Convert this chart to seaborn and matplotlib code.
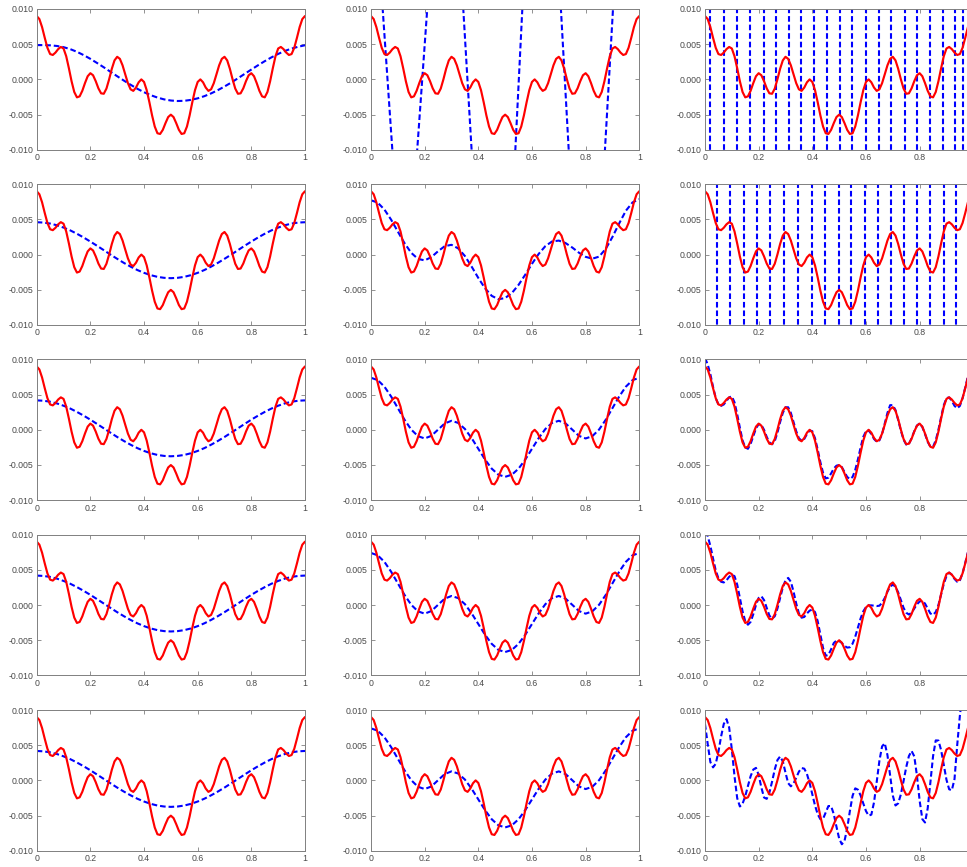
import numpy as np
import pandas as pd
import matplotlib
matplotlib.use("Agg")
import matplotlib.pyplot as plt
from matplotlib.ticker import FormatStrFormatter
import seaborn as sns

MILLI = 1e-3  # all curve values below are listed in thousandths

# sample positions
x_fine = np.round(np.arange(101) * 0.01, 2)      # 0.00 .. 1.00
x_coarse = np.round(np.arange(41) * 0.025, 3)    # 0.000 .. 1.000
x_right = x_fine[:99]                            # 0.00 .. 0.98

# target signal (solid red)
red_vals = [
    9.00, 8.57, 7.43, 5.91, 4.49, 3.60, 3.47, 3.81, 4.30, 4.61,
    4.39, 3.29, 1.58, -0.27, -1.79, -2.55, -2.41, -1.62, -0.52, 0.45,
    0.88, 0.59, -0.25, -1.27, -1.98, -2.04, -1.30, 0.02, 1.51, 2.70,
    3.21, 2.92, 2.00, 0.72, -0.54, -1.41, -1.63, -1.16, -0.41, 0.00,
    -0.36, -1.53, -3.24, -5.11, -6.70, -7.65, -7.75, -7.17, -6.21, -5.35,
    -5.01,
    -5.35, -6.21, -7.17, -7.75, -7.65, -6.70, -5.11, -3.24, -1.53, -0.36,
    0.00, -0.41, -1.16, -1.63, -1.41, -0.54, 0.72, 2.00, 2.92, 3.21,
    2.70, 1.51, 0.02, -1.30, -2.04, -1.98, -1.27, -0.25, 0.59, 0.88,
    0.45, -0.52, -1.62, -2.41, -2.55, -1.79, -0.27, 1.58, 3.29, 4.39,
    4.61, 4.30, 3.81, 3.47, 3.60, 4.49, 5.91, 7.43, 8.57, 9.00,
]

# approximations (dashed blue), left column
blue_left_1 = [
    4.87, 4.87, 4.84, 4.75, 4.58, 4.30, 3.92, 3.45, 2.92, 2.33,
    1.72, 1.08, 0.45, -0.17, -0.76, -1.33, -1.82, -2.24, -2.58, -2.84,
    -3.00, -3.07, -3.04, -2.91, -2.69, -2.38, -1.99, -1.53, -1.01, -0.45,
    0.16, 0.78, 1.40, 2.01, 2.59, 3.13, 3.62, 4.04, 4.38, 4.64, 4.85,
]
blue_left_2 = [
    4.60, 4.55, 4.41, 4.17, 3.84, 3.44, 2.96, 2.43, 1.85, 1.25,
    0.63, 0.00, -0.60, -1.18, -1.71, -2.19, -2.59, -2.92, -3.16, -3.30,
    -3.35, -3.30, -3.16, -2.92, -2.59, -2.19, -1.71, -1.18, -0.60, 0.00,
    0.63, 1.25, 1.85, 2.43, 2.96, 3.44, 3.84, 4.17, 4.41, 4.55, 4.60,
]
blue_left_3 = [
    4.18, 4.13, 3.99, 3.75, 3.42, 3.02, 2.54, 2.01, 1.44, 0.83,
    0.21, -0.41, -1.02, -1.59, -2.12, -2.60, -3.00, -3.33, -3.57, -3.71,
    -3.76, -3.71, -3.57, -3.33, -3.00, -2.60, -2.12, -1.59, -1.02, -0.41,
    0.21, 0.83, 1.44, 2.01, 2.54, 3.02, 3.42, 3.75, 3.99, 4.13, 4.18,
]

# middle column
blue_mid_1_x = [0.0, 0.125, 0.283, 0.4636, 0.632, 0.8033, 1.0]
blue_mid_1_y = [34.2, -35.3, 49.3, -67.2, 62.3, -55.8, 75.4]
blue_mid_2 = [
    7.72, 7.38, 6.40, 4.96, 3.27, 1.62, 0.25, -0.61, -0.82, -0.36,
    0.48, 1.20, 1.39, 0.88, -0.20, -1.70, -3.32, -4.79, -5.86, -6.34,
    -6.17, -5.46, -4.30, -2.85, -1.31, 0.10, 1.21, 1.87, 1.99, 1.64,
    1.01, 0.27, -0.32, -0.58, -0.29, 0.82, 2.51, 4.43, 6.23, 7.42, 7.86,
]
blue_mid_3 = [
    7.39, 7.06, 6.13, 4.73, 3.08, 1.43, 0.03, -0.90, -1.23, -0.86,
    0.03, 0.91, 1.28, 0.98, 0.12, -1.18, -2.70, -4.22, -5.52, -6.38,
    -6.68, -6.38, -5.52, -4.22, -2.70, -1.18, 0.12, 0.98, 1.28, 0.91,
    0.03, -0.86, -1.23, -0.90, 0.03, 1.43, 3.08, 4.73, 6.13, 7.06, 7.39,
]

# right column: zero crossings of the aliased (off-scale) approximations
alias_cross_1 = [0.0185, 0.070, 0.120, 0.169, 0.219, 0.266, 0.312, 0.359,
                 0.407, 0.454, 0.503, 0.549, 0.599, 0.648, 0.695, 0.744,
                 0.790, 0.839, 0.886, 0.932, 0.963]
alias_cross_2 = [0.043, 0.095, 0.146, 0.195, 0.244, 0.296, 0.346, 0.397,
                 0.447, 0.498, 0.546, 0.595, 0.644, 0.694, 0.741, 0.790,
                 0.840, 0.889, 0.936]
alias_reach = 20.0  # excursion beyond the visible band

blue_right_3 = [
    10.2, 9.3, 7.9, 6.1, 4.5, 3.6, 3.4, 3.6, 4.1, 4.6,
    4.75, 3.9, 2.2, 0.3, -1.5, -2.5, -2.7, -2.0, -0.9, 0.2,
    0.8, 0.7, 0.0, -1.0, -1.8, -2.05, -1.6, -0.4, 1.1, 2.4,
    3.2, 3.2, 2.4, 1.1, -0.2, -1.2, -1.55, -1.3, -0.6, -0.1,
    -0.2, -1.2, -2.8, -4.6, -6.1, -6.9, -6.8, -6.2, -5.5, -5.1,
    -5.0, -5.3, -6.0, -6.7, -7.0, -6.7, -5.7, -4.2, -2.5, -1.0,
    -0.2, -0.1, -0.6, -1.3, -1.7, -1.5, -0.6, 0.9, 2.4, 3.5,
    3.5, 2.8, 1.4, -0.1, -1.4, -2.1, -2.0, -1.2, -0.2, 0.6,
    0.9, 0.4, -0.6, -1.7, -2.4, -2.4, -1.5, 0.0, 1.8, 3.5,
    4.5, 4.6, 4.1, 3.4, 3.05, 3.4, 4.5, 6.0, 7.6,
]
blue_right_4 = [
    10.4, 9.8, 8.4, 6.6, 4.9, 3.8, 3.3, 3.2, 3.5, 4.0,
    4.3, 4.1, 2.9, 1.0, -0.9, -2.3, -2.8, -2.4, -1.3, 0.0,
    1.0, 1.25, 0.7, -0.4, -1.5, -1.95, -1.6, -0.5, 1.0, 2.5,
    3.5, 3.85, 3.3, 1.9, 0.2, -1.2, -1.8, -1.7, -1.2, -0.8,
    -0.65, -1.0, -2.3, -4.2, -6.1, -7.2, -7.1, -6.3, -5.4, -5.05,
    -5.1, -5.4, -5.8, -6.05, -6.0, -5.5, -4.5, -3.2, -1.9, -0.9,
    -0.3, -0.05, -0.05, -0.1, -0.15, -0.1, 0.3, 1.0, 1.9, 2.6,
    2.9, 2.6, 1.8, 0.7, -0.4, -1.1, -1.35, -1.1, -0.5, 0.1,
    0.5, 0.6, 0.2, -0.5, -1.2, -1.4, -1.0, 0.0, 1.5, 3.0,
    4.1, 4.6, 4.3, 3.7, 3.3, 3.5, 4.5, 6.0, 7.5,
]
blue_right_5 = [
    8.0, 5.2, 2.6, 1.85, 2.36, 4.06, 6.24, 8.02, 8.7, 7.52,
    4.42, 0.58, -2.52, -3.7, -3.31, -2.24, -0.80, 0.60, 1.54, 1.78,
    0.78, -1.0, -2.43, -2.62, -1.74, -0.18, 1.56, 2.89, 3.4, 2.72,
    1.10, -0.39, -0.84, -0.43, 0.38, 1.24, 1.75, 1.67, 0.91, -0.39,
    -1.98, -3.56, -4.80, -5.51, -5.46, -4.55, -3.64, -3.65, -4.79, -6.58,
    -8.25, -9.07, -8.60, -6.80, -4.35, -2.19, -1.13, -1.32, -2.14, -3.28,
    -4.36, -5.01, -4.86, -3.11, -0.21, 2.78, 4.83, 5.28, 3.60, 0.70,
    -2.15, -3.56, -3.26, -1.99, -0.11, 1.88, 3.46, 4.18, 3.42, 0.65,
    -2.88, -5.5, -5.98, -3.98, -0.30, 3.44, 5.68, 5.66, 4.31, 2.2,
    0.09, -1.26, -1.4, 0.2, 5.0, 9.2, 12.5, 14.0, 14.5,
]

x_ticks = [0, 0.2, 0.4, 0.6, 0.8, 1.0]
x_tick_labels = ["0", "0.2", "0.4", "0.6", "0.8", "1"]
y_ticks = [-0.010, -0.005, 0.0, 0.005, 0.010]

RED = "#ff0000"
BLUE = "#0000ff"
EDGE = "#808080"
TEXT = "#4a4a4a"

sns.set_theme(style="white")
plt.rcParams["font.family"] = ["Liberation Sans", "DejaVu Sans"]
plt.rcParams["axes.unicode_minus"] = False

W, H = 967, 867
fig = plt.figure(figsize=(W / 100, H / 100), dpi=100)
fig.patch.set_facecolor("white")

col_left = [36.7, 371.0, 705.0]
row_top = [9.0, 184.2, 359.4, 534.6, 710.0]
ax_w, ax_h = 268.3, 140.8

dash = (0, (2.7, 1.4))


def blue_line(ax, xs, ys):
    sns.lineplot(x=np.asarray(xs, float), y=np.asarray(ys, float) * MILLI,
                 ax=ax, color=BLUE, lw=1.5, linestyle=dash,
                 estimator=None, sort=False)


def alias_lines(ax, crossings):
    rows = []
    for i, c in enumerate(crossings):
        rows.append((i, c, alias_reach))
        rows.append((i, c, -alias_reach))
    df = pd.DataFrame(rows, columns=["seg", "x", "y"])
    df["y"] = df["y"] * MILLI
    sns.lineplot(data=df, x="x", y="y", units="seg", ax=ax, color=BLUE,
                 lw=1.5, linestyle=dash, estimator=None, sort=False)


def red_line(ax):
    sns.lineplot(x=x_fine, y=np.asarray(red_vals) * MILLI, ax=ax,
                 color=RED, lw=1.55, estimator=None, sort=False)


blue_specs = [
    [("line", x_coarse, blue_left_1), ("line", blue_mid_1_x, blue_mid_1_y), ("alias", alias_cross_1)],
    [("line", x_coarse, blue_left_2), ("line", x_coarse, blue_mid_2), ("alias", alias_cross_2)],
    [("line", x_coarse, blue_left_3), ("line", x_coarse, blue_mid_3), ("line", x_right, blue_right_3)],
    [("line", x_coarse, blue_left_3), ("line", x_coarse, blue_mid_3), ("line", x_right, blue_right_4)],
    [("line", x_coarse, blue_left_3), ("line", x_coarse, blue_mid_3), ("line", x_right, blue_right_5)],
]

for r, top in enumerate(row_top):
    for c, left in enumerate(col_left):
        ax = fig.add_axes([left / W, 1 - (top + ax_h) / H, ax_w / W, ax_h / H])
        ax.set_facecolor("white")
        spec = blue_specs[r][c]
        if spec[0] == "alias":
            alias_lines(ax, spec[1])
        else:
            blue_line(ax, spec[1], spec[2])
        red_line(ax)

        ax.set_xlim(0, 1)
        ax.set_ylim(-0.010, 0.010)
        # the right-hand column runs past the figure edge, so its last
        # tick carries no label
        if c == 2:
            ax.set_xticks(x_ticks)
            ax.set_xticklabels(x_tick_labels[:-1] + [""])
        else:
            ax.set_xticks(x_ticks)
            ax.set_xticklabels(x_tick_labels)
        ax.set_yticks(y_ticks)
        ax.yaxis.set_major_formatter(FormatStrFormatter("%.3f"))
        ax.set_xlabel("")
        ax.set_ylabel("")
        ax.tick_params(which="both", direction="in", top=True, right=True,
                       bottom=True, left=True, length=3, width=0.6,
                       color=EDGE, labelcolor=TEXT, labelsize=6.3, pad=2.5)
        for sp in ax.spines.values():
            sp.set_visible(True)
            sp.set_color(EDGE)
            sp.set_linewidth(0.7)

fig.savefig("out.png", dpi=100, facecolor="white")
